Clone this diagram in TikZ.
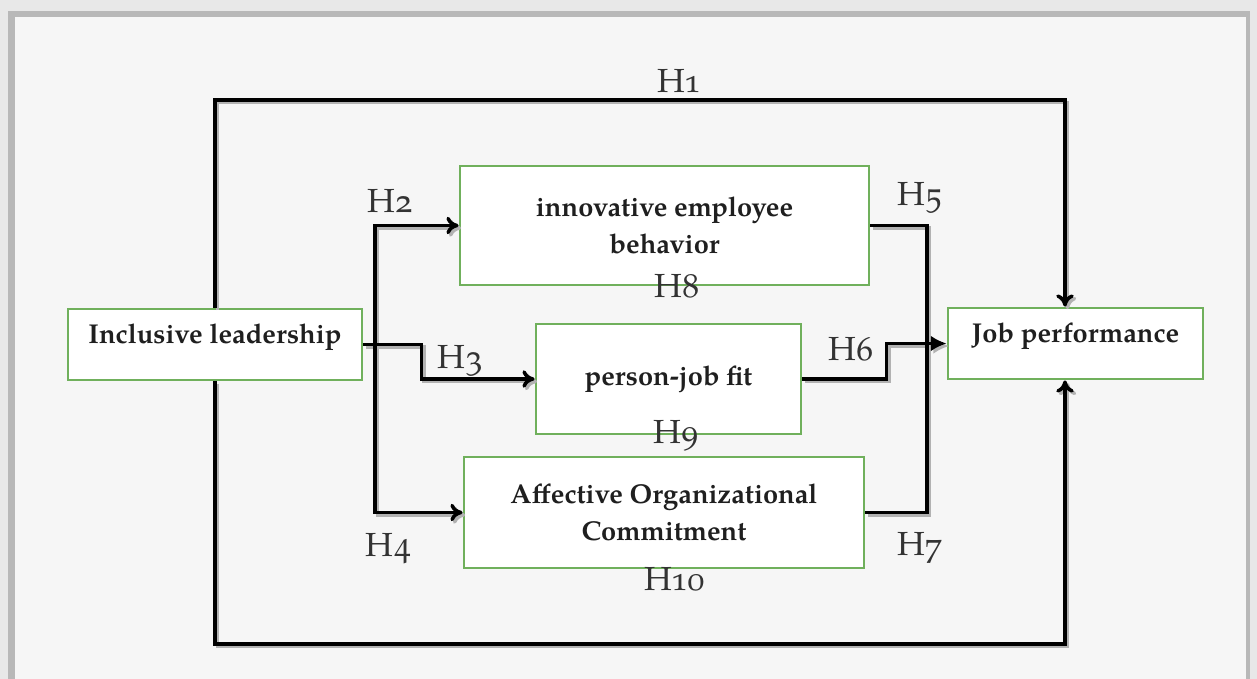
\documentclass[tikz,border=0pt]{standalone}
\usepackage{fontspec}
\setmainfont{texgyrepagella}[Extension=.otf, UprightFont=*-regular, BoldFont=*-bold,
  ItalicFont=*-italic, BoldItalicFont=*-bolditalic, Numbers=OldStyle]
\usetikzlibrary{arrows.meta}
\definecolor{boxgreen}{RGB}{112,176,92}
\definecolor{paper}{RGB}{246,246,246}
\colorlet{frameouter}{black!9}
\colorlet{frameline}{black!28}

\begin{document}
\begin{tikzpicture}[x=0.02cm, y=-0.02cm,
    box/.style={draw=boxgreen, line width=1.6pt, fill=white, align=center, inner sep=0pt,
      text=black!88, font=\bfseries\fontsize{15.5}{21}\selectfont},
    link/.style={line width=2pt},
    tip/.style={-{To[length=7pt,width=10pt]}},
    hyp/.style={anchor=base, text=black!80, font=\fontsize{19}{19}\selectfont}]
            % paper and frame
            \fill[frameouter] (0,0) rectangle (1257,679);
            \fill[frameline] (8,11) rectangle (1250,679);
            \fill[paper] (15,17) rectangle (1246,679);
            \useasboundingbox (0,0) rectangle (1257,679);

            \node[box, minimum width=5.88cm, minimum height=1.42cm, text depth=12pt] (lead) at (215,344.5) {Inclusive leadership};
            \node[box, minimum width=8.18cm, minimum height=2.38cm] (innov) at (664.5,225.5) {innovative employee\\behavior};
            \node[box, minimum width=5.30cm, minimum height=2.20cm] (fit) at (668.5,379) {person-job fit};
            \node[box, minimum width=8.00cm, minimum height=2.22cm] (commit) at (664,512.5) {Affective Organizational\\Commitment};
            \node[box, minimum width=5.10cm, minimum height=1.42cm, text depth=12pt] (perf) at (1075.5,343.5) {Job performance};

            \coordinate (topbend) at (1065,100);
            \coordinate (lowbend) at (1065,644);
            \coordinate (split) at (375,344.5);
            \coordinate (join) at (927,343.5);

            % connectors, first a soft shadow then the lines
            \foreach \ink/\dx in {black!30/2.5, black/0}{
                \begin{scope}[color=\ink, transform canvas={shift={(\dx,\dx)}}]
                    \draw[link, tip] (lead.north) |- (topbend) -- (topbend |- perf.north);
                    \draw[link, tip] (lead.south) |- (lowbend) -- (lowbend |- perf.south);
                    \draw[link, tip] (lead.east) -- ++(58,0) |- (fit.west);
                    \draw[link, tip] (split) |- (innov.west);
                    \draw[link, tip] (split) |- (commit.west);
                    \draw[link] (innov.east) -| (join);
                    \draw[link] (commit.east) -| (join);
                    \draw[link, -{Latex[length=9pt,width=9pt]}] (fit.east) -- ++(84,0) |- (perf.west);
                \end{scope}
            }

            \foreach \h/\x/\y in {H1/679/92, H2/390/212, H3/460/368, H4/389/556, H5/920/205,
                H6/851/360, H7/920/555, H8/677/297, H9/676/443, H10/675/590}{
                \node[hyp] (\h) at (\x,\y) {\h};
            }
\end{tikzpicture}
\end{document}
